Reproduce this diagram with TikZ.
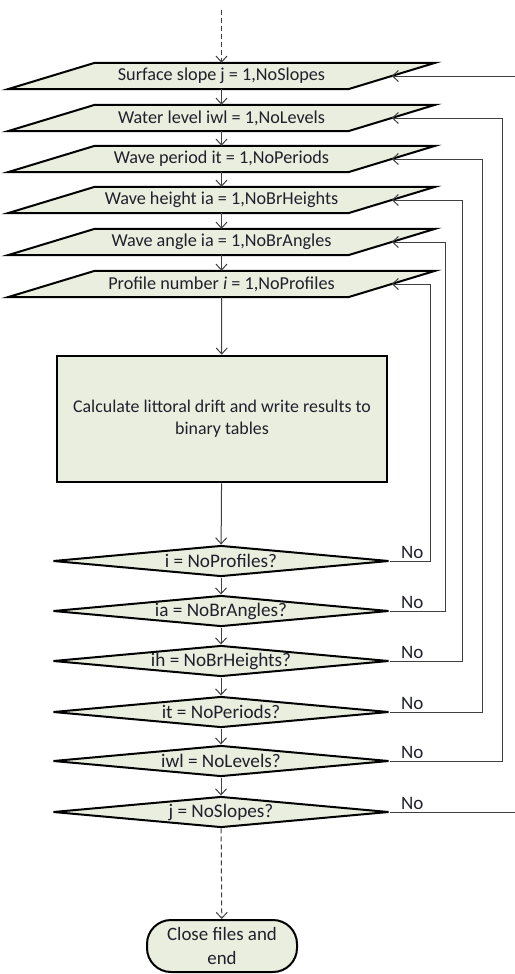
\documentclass[tikz,border=0pt]{standalone}
\usepackage{fontspec}
\setmainfont{Carlito}
\usetikzlibrary{shapes.geometric,arrows.meta,backgrounds}
\definecolor{boxfill}{RGB}{234,238,222}
\definecolor{txtcol}{RGB}{32,32,44}
\definecolor{linecol}{RGB}{64,64,64}
\tikzset{
  loopbox/.style={rectangle, minimum width=340pt, minimum height=26pt, inner sep=0pt,
    text=txtcol, font=\fontsize{18.2}{20}\selectfont},
  pgram/.style={draw=black, line width=2pt, line join=miter, fill=boxfill},
  calcbox/.style={rectangle, draw=black, line width=2.6pt, fill=boxfill,
    minimum width=330pt, minimum height=126pt, align=center, text=txtcol,
    font=\fontsize{17.9}{22}\selectfont},
  testbox/.style={diamond, aspect=10, draw=black, line width=2pt, fill=boxfill,
    minimum width=336pt, minimum height=31pt, inner sep=0pt, text=txtcol,
    font=\fontsize{19.2}{21}\selectfont},
  stopbox/.style={rectangle, rounded corners=24pt, draw=black, line width=2pt,
    fill=boxfill, minimum width=150pt, minimum height=52pt, align=center,
    text=txtcol, font=\fontsize{18.9}{24}\selectfont},
  nolabel/.style={inner sep=0pt, text=txtcol, font=\fontsize{19}{21}\selectfont},
  arr/.style={draw=linecol, line width=1pt, -{Straight Barb[length=6pt,width=11pt]}},
  dash5/.style={dash pattern=on 5pt off 3pt}
}
\begin{document}
\begin{tikzpicture}[x=1pt,y=-1pt]
\useasboundingbox (0,0) rectangle (514,974);
\coordinate (S) at (221.5,10);
\coordinate (r1) at (430,0);
\coordinate (r2) at (445,0);
\coordinate (r3) at (462,0);
\coordinate (r4) at (482,0);
\coordinate (r5) at (502,0);
\coordinate (r6) at (517,0);

\node[loopbox] (ps1) at (221.5,76) {Surface slope j = 1,NoSlopes};
\node[loopbox] (ps2) at (221.5,118) {Water level iwl = 1,NoLevels};
\node[loopbox] (ps3) at (221.5,159) {Wave period it = 1,NoPeriods};
\node[loopbox] (ps4) at (221.5,200) {Wave height ia = 1,NoBrHeights};
\node[loopbox] (ps5) at (221.5,242) {Wave angle ia = 1,NoBrAngles};
\node[loopbox] (ps6) at (221.5,284) {Profile number \textit{i} = 1,NoProfiles};

\begin{scope}[on background layer]
\foreach \p in {ps1,ps2,ps3,ps4,ps5,ps6}
{
    \filldraw[pgram] ([xshift=-43.5pt]\p.south west) -- ([xshift=-43.5pt]\p.south east)
        -- ([xshift=43.5pt]\p.north east) -- ([xshift=43.5pt]\p.north west) -- cycle;
}
\end{scope}

\node[calcbox] (calc) at (222,419) {Calculate littoral drift and write results to\\binary tables};

\node[testbox] (d1) at (221,561) {i = NoProfiles?};
\node[testbox] (d2) at (221,611) {ia = NoBrAngles?};
\node[testbox] (d3) at (221,661) {ih = NoBrHeights?};
\node[testbox] (d4) at (221,712) {it = NoPeriods?};
\node[testbox] (d5) at (221,761) {iwl = NoLevels?};
\node[testbox] (d6) at (221,812) {j = NoSlopes?};

\node[stopbox] (end) at (222,946) {Close files and\\end};

\draw[arr,dash5] (S) -- (ps1.north);
\foreach \a/\b in {ps1/ps2,ps2/ps3,ps3/ps4,ps4/ps5,ps5/ps6}
{
    \draw[arr] (\a.south) -- (\b.north);
}
\draw[arr] (ps6.south) -- (calc);
\foreach \a/\b in {calc/d1,d1/d2,d2/d3,d3/d4,d4/d5,d5/d6}
{
    \draw[arr] (\a) -- (\b);
}
\draw[arr,dash5] (d6) -- (end);

\foreach \d/\p/\r in {d1/ps6/r1,d2/ps5/r2,d3/ps4/r3,d4/ps3/r4,d5/ps2/r5,d6/ps1/r6}
{
    \draw[arr] (\d.east) -- (\d.east -| \r) |- (\p.east);
    \node[nolabel, anchor=south west] (no\d) at ([xshift=11pt,yshift=2pt]\d.east) {No};
}
\end{tikzpicture}
\end{document}
